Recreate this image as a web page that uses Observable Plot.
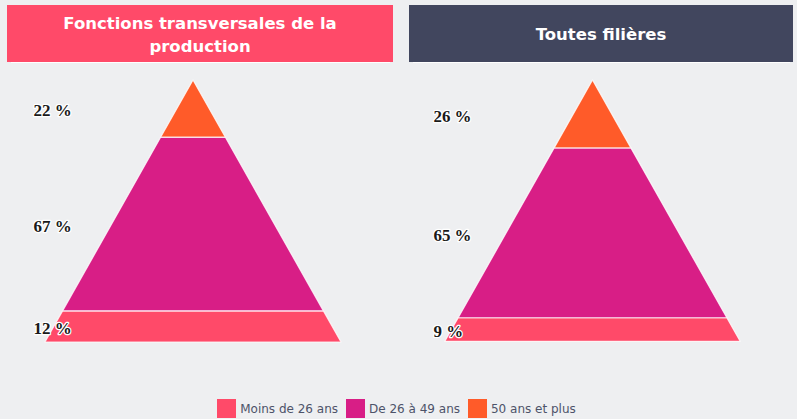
<!DOCTYPE html>
<html>
<head>
<meta charset="utf-8">
<script src="https://cdn.jsdelivr.net/npm/d3@7"></script>
<script src="https://cdn.jsdelivr.net/npm/@observablehq/plot@0.6"></script>
<style>
  html, body { margin: 0; padding: 0; background: #eeeff1; }
  #root { position: relative; width: 797px; height: 419px; overflow: hidden; background: #eeeff1; font-family: "DejaVu Sans", sans-serif; }
  .hdr { position: absolute; top: 5px; height: 57px; color: #fff; font-weight: bold; font-size: 16.5px; line-height: 23px; display: flex; align-items: center; justify-content: center; text-align: center; box-sizing: border-box; padding: 2px 40px 0 40px; }
  .hdr-line { position: absolute; top: 62px; height: 1px; background: #fff; }
  .plot { position: absolute; top: 63px; }
  #legend { position: absolute; top: 399px; left: 0; width: 793px; display: flex; justify-content: center; align-items: center; font-size: 12px; color: #4d5369; }
  .item { display: flex; align-items: center; margin: 0 4px; }
  .sw { width: 19px; height: 19px; margin-right: 4px; }
</style>
</head>
<body>
<div id="root"></div>
<script>
// ---- data ----
const ageGroups = ["Moins de 26 ans", "De 26 à 49 ans", "50 ans et plus"];
const ageColors = ["#ff4a69", "#d81e86", "#ff5b29"];
const panelTitles = ["Fonctions transversales de la production", "Toutes filières"];
const headerColors = ["#ff4a69", "#41465e"];
const valuesTransversales = [12, 67, 22];
const valuesToutes = [9, 65, 26];
const panelValues = [valuesTransversales, valuesToutes];

const root = document.getElementById("root");
const panelLeft = [0, 400];
const hdrBox = [[7, 386, 11, 379], [409, 384, 413, 377]];

function pyramid(values) {
  const total = d3.sum(values);
  const rows = [];
  const labels = [];
  let acc = 0;
  values.forEach((v, i) => {
    const h0 = acc / total, h1 = (acc + v) / total;
    rows.push({grp: ageGroups[i], h: h0, w: 1 - h0});
    rows.push({grp: ageGroups[i], h: h1, w: 1 - h1});
    labels.push({grp: ageGroups[i], mid: (h0 + h1) / 2, label: v + " %"});
    acc += v;
  });
  return Plot.plot({
    width: 398,
    height: 330,
    marginLeft: 33,
    marginTop: 0, marginBottom: 0, marginRight: 0,
    style: {background: "transparent", overflow: "visible"},
    x: {domain: [-1, 1], range: [45, 341], axis: null},
    y: {domain: [0, 1], range: [279, 17], axis: null},
    color: {domain: ageGroups, range: ageColors},
    marks: [
      Plot.areaX(rows, {y: "h", x1: d => -d.w, x2: "w", z: "grp", fill: "grp", stroke: "#fff", strokeWidth: 1.2, strokeOpacity: 0.8}),
      Plot.text(labels, {y: "mid", text: "label", frameAnchor: "left", textAnchor: "start", dy: 2,
        fill: "#1a1a1a", stroke: "#fff", strokeWidth: 2.5, fontSize: 17, fontWeight: "bold",
        fontFamily: "Liberation Serif, serif"})
    ]
  });
}

panelTitles.forEach((t, i) => {
  const h = document.createElement("div");
  h.className = "hdr";
  h.style.left = hdrBox[i][0] + "px";
  h.style.width = hdrBox[i][1] + "px";
  h.style.background = headerColors[i];
  h.textContent = t;
  root.appendChild(h);
  const l = document.createElement("div");
  l.className = "hdr-line";
  l.style.left = hdrBox[i][2] + "px";
  l.style.width = hdrBox[i][3] + "px";
  root.appendChild(l);
  const p = pyramid(panelValues[i]);
  const wrap = document.createElement("div");
  wrap.className = "plot";
  wrap.style.left = panelLeft[i] + "px";
  wrap.appendChild(p);
  root.appendChild(wrap);
});

const lg = document.createElement("div");
lg.id = "legend";
ageGroups.forEach((g, i) => {
  const it = document.createElement("div");
  it.className = "item";
  const sw = document.createElement("div");
  sw.className = "sw";
  sw.style.background = ageColors[i];
  const tx = document.createElement("span");
  tx.textContent = g;
  it.appendChild(sw); it.appendChild(tx);
  lg.appendChild(it);
});
root.appendChild(lg);
</script>
</body>
</html>
